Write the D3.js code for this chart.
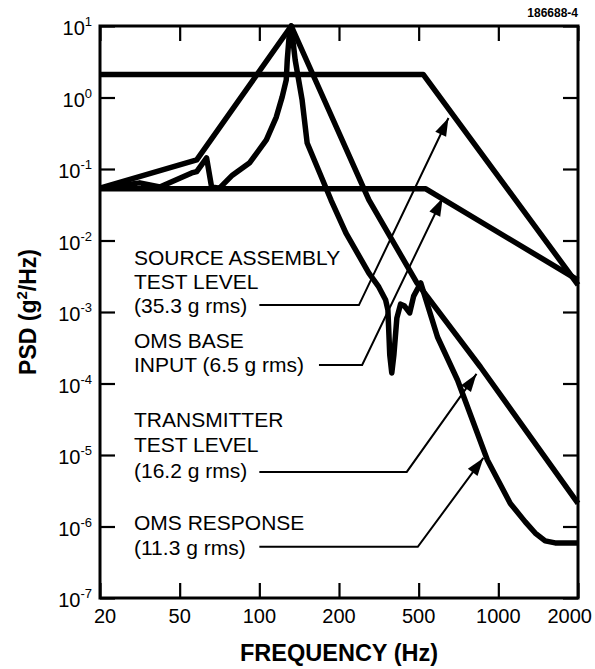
<!DOCTYPE html>
<html><head><meta charset="utf-8">
<script src="https://cdn.jsdelivr.net/npm/d3@7"></script>
<style>
html,body{margin:0;padding:0;background:#fff;}
svg{display:block;font-family:"Liberation Sans",Arial,Helvetica,sans-serif;}
</style></head>
<body>
<svg id="chart" width="595" height="669"></svg>
<script>
// ---------- data ----------
const xTicks = [20, 50, 100, 200, 500, 1000, 2000];
const yTickExps = [1, 0, -1, -2, -3, -4, -5, -6, -7];

// Source assembly test level (35.3 g rms)
const sourceFreq = [20, 520, 2000];
const sourcePsd  = [2.1, 2.1, 0.0024];

// OMS base input (6.5 g rms)
const baseFreq = [20, 530, 2000];
const basePsd  = [0.053, 0.053, 0.0028];

// Transmitter test level (16.2 g rms)
const transFreq = [20, 58, 132, 282, 490, 856, 2000];
const transPsd  = [0.054, 0.134, 10, 0.037, 0.00255, 0.00017, 0.0000021];

// OMS response (11.3 g rms)
const respFreq = [20, 31.6, 39.8, 55.5, 58, 63.2, 66, 70.7, 79.1, 91.7, 106.3, 115.9, 122, 126.4, 127.5, 129.7, 132,
                  136.6, 145.1, 151.6, 186.6, 216.7, 282, 316, 342, 351, 358.6, 367, 376, 389, 406, 425, 451, 472, 509,
                  589, 701, 909, 1110, 1264, 1378, 1503, 1639, 2000];
const respPsd  = [0.054, 0.064, 0.056, 0.088, 0.092, 0.143, 0.056, 0.054, 0.082, 0.121, 0.255, 0.533, 1.02, 1.76, 3.34, 7.48, 10,
                  3.34, 0.92, 0.231, 0.0368, 0.0127, 0.0035, 0.00224, 0.00147, 0.00107, 0.00025, 0.00014, 0.00025, 0.00082, 0.00129, 0.00121, 0.00097, 0.00167, 0.00255,
                  0.000447, 0.000112, 0.0000085, 0.0000021, 0.00000116, 0.00000081, 0.00000063, 0.00000059, 0.00000059];

// annotation labels and leader lines (frequency / PSD of leader vertices)
const labelLines = [
  ["SOURCE ASSEMBLY", "TEST LEVEL", "(35.3 g rms)"],
  ["OMS BASE", "INPUT (6.5 g rms)"],
  ["TRANSMITTER", "TEST LEVEL", "(16.2 g rms)"],
  ["OMS RESPONSE", "(11.3 g rms)"]
];
const labelTopPsd = [0.0045, 0.00031, 0.000025, 0.00000089];
const leaderFreq = [[100, 251.5, 648], [168, 261, 616], [100, 436, 827], [100, 495, 878]];
const leaderPsd  = [[0.00125, 0.00125, 0.516], [0.000182, 0.000182, 0.0393], [0.0000058, 0.0000058, 0.000136], [0.00000052, 0.00000052, 0.0000091]];

// ---------- layout ----------
const svg = d3.select("#chart");
const L = 100, R = 578, T = 26, B = 598;
const x = d3.scaleLog().domain(xTicks).range(xTicks.map((d, i) => L + i * (R - L) / (xTicks.length - 1)));
const y = d3.scaleLog().domain([1e-7, 10]).range([B, T]);

const zip = (a, b) => a.map((d, i) => [d, b[i]]);
const line = d3.line().x(d => x(d[0])).y(d => y(d[1]));

// ---------- frame & ticks ----------
const g = svg.append("g");
const tickLen = 15;
const styleTicks = s => { s.select(".domain").remove(); s.selectAll("line").attr("stroke-width", 2.2); };
g.append("g").attr("transform", `translate(0,${B})`)
  .call(d3.axisBottom(x).tickValues(xTicks).tickSize(-tickLen).tickFormat("")).call(styleTicks);
g.append("g").attr("transform", `translate(0,${T})`)
  .call(d3.axisTop(x).tickValues(xTicks).tickSize(-tickLen).tickFormat("")).call(styleTicks);
const yVals = yTickExps.map(e => Math.pow(10, e));
g.append("g").attr("transform", `translate(${L},0)`)
  .call(d3.axisLeft(y).tickValues(yVals).tickSize(-tickLen).tickFormat("")).call(styleTicks);
g.append("g").attr("transform", `translate(${R},0)`)
  .call(d3.axisRight(y).tickValues(yVals).tickSize(-tickLen).tickFormat("")).call(styleTicks);

g.append("rect").attr("x", L).attr("y", T).attr("width", R - L).attr("height", B - T)
  .attr("fill", "none").attr("stroke", "#000").attr("stroke-width", 3);

// x tick labels
const nX = xTicks.length;
g.selectAll(".xl").data(xTicks).enter().append("text")
  .attr("x", (d, i) => i === nX - 1 ? R + 14 : x(d) + (i === 0 ? 5 : 0))
  .attr("y", B + 25)
  .attr("text-anchor", (d, i) => i === nX - 1 ? "end" : "middle")
  .attr("font-size", 20).text(d => d);

// y tick labels
const yl = g.selectAll(".yl").data(yTickExps).enter().append("text")
  .attr("x", L - 8).attr("y", d => y(Math.pow(10, d)) + 9).attr("text-anchor", "end")
  .attr("font-size", 20);
yl.append("tspan").text("10");
yl.append("tspan").attr("font-size", 13).attr("dy", -9).text(d => d < 0 ? "-" + (-d) : d);

// axis titles
svg.append("text").attr("transform", `translate(36,${(T + B) / 2}) rotate(-90)`)
  .attr("text-anchor", "middle").attr("font-weight", "bold").attr("font-size", 23)
  .call(t => {
    t.append("tspan").text("PSD (g");
    t.append("tspan").attr("font-size", 15).attr("dy", -9).text("2");
    t.append("tspan").attr("dy", 9).text("/Hz)");
  });
svg.append("text").attr("x", (L + R) / 2).attr("y", 661).attr("text-anchor", "middle")
  .attr("font-weight", "bold").attr("font-size", 23.5).text("FREQUENCY (Hz)");

svg.append("text").attr("x", R).attr("y", 17).attr("text-anchor", "end")
  .attr("font-weight", "bold").attr("font-size", 12).text("186688-4");

// ---------- data lines ----------
const series = [zip(sourceFreq, sourcePsd), zip(baseFreq, basePsd), zip(transFreq, transPsd), zip(respFreq, respPsd)];
svg.append("g").selectAll("path").data(series).enter().append("path")
  .attr("d", line).attr("fill", "none").attr("stroke", "#000")
  .attr("stroke-width", 5.5).attr("stroke-linejoin", "round").attr("stroke-linecap", "butt");

// ---------- labels & leaders ----------
const lx = 134;
const lineGap = [24, 24, 25.5, 25];
labelLines.forEach((lines, i) => {
  const t = svg.append("text").attr("x", lx).attr("y", y(labelTopPsd[i])).attr("font-size", 21);
  lines.forEach((s, j) => t.append("tspan").attr("x", lx).attr("dy", j === 0 ? 0 : lineGap[i]).text(s));
  const pts = zip(leaderFreq[i], leaderPsd[i]).map(d => [x(d[0]), y(d[1])]);
  svg.append("path").attr("d", d3.line()(pts)).attr("fill", "none").attr("stroke", "#000").attr("stroke-width", 2);
  const [p0, p1] = [pts[pts.length - 2], pts[pts.length - 1]];
  const ang = Math.atan2(p1[1] - p0[1], p1[0] - p0[0]);
  const len = 18, w = 6;
  const bx = p1[0] - len * Math.cos(ang), by = p1[1] - len * Math.sin(ang);
  const head = [p1, [bx + w * Math.sin(ang), by - w * Math.cos(ang)], [bx - w * Math.sin(ang), by + w * Math.cos(ang)]];
  svg.append("path").attr("d", d3.line()(head) + "Z").attr("fill", "#000");
});
</script>
</body></html>
